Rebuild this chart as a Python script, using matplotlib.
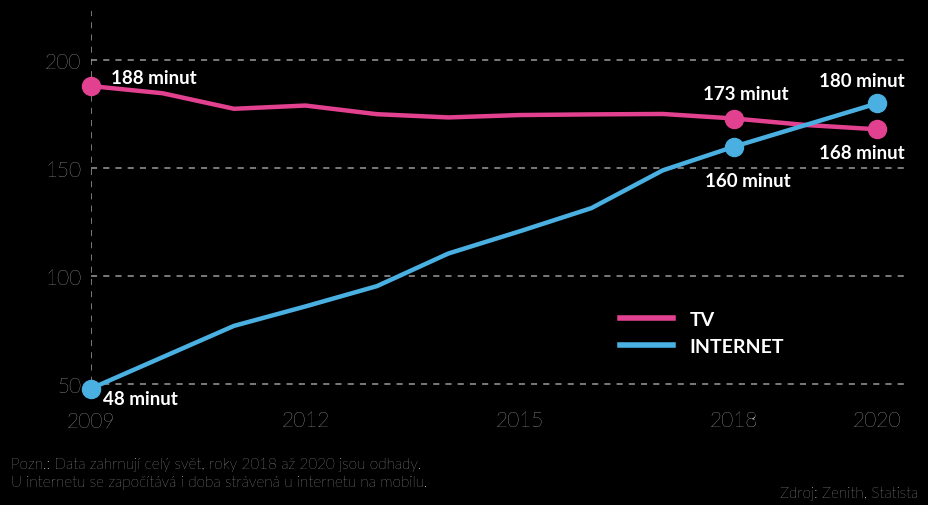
import matplotlib
matplotlib.use("Agg")
import matplotlib.pyplot as plt
from matplotlib.lines import Line2D

years = [2009, 2010, 2011, 2012, 2013, 2014, 2015, 2016, 2017, 2018, 2019, 2020]
tv = [188, 184.7, 177.5, 179, 175, 173.5, 174.6, 174.9, 175.1, 173, 170, 168]
internet = [48, 62.5, 77, 86, 95.4, 110.5, 120.8, 131.5, 149, 160, 170, 180]
xticks = [2009, 2012, 2015, 2018, 2020]
yticks = [50, 100, 150, 200]
series_names = ["TV", "INTERNET"]

PINK = "#E2418F"
BLUE = "#4AAFE1"
GRID = "#9a9a9a"
FONT = ["Lato", "DejaVu Sans"]

plt.rcParams['font.family'] = FONT

fig = plt.figure(figsize=(9.29, 5.06), dpi=100, facecolor="black")
ax = fig.add_axes([0.098, 0.2174, 0.877, 0.7586], facecolor="black")

ax.set_xlim(2009, 2020.4)
ax.set_ylim(45, 222.7)

for y in yticks:
    ax.axhline(y, color=GRID, lw=1.1, ls=(0, (4, 4)), zorder=1)
ax.axvline(2009, color=GRID, lw=1.1, ls=(0, (4, 4)), zorder=1)

ax.plot(years, tv, color=PINK, lw=3.2, solid_capstyle="round", zorder=3)
ax.plot(years, internet, color=BLUE, lw=3.2, solid_capstyle="round", zorder=3)

# highlighted points
hl_tv = [0, 9, 11]
hl_in = [0, 9, 11]
ax.plot([years[i] for i in hl_tv], [tv[i] for i in hl_tv], "o", color=PINK,
        ms=13, zorder=4, clip_on=False)
ax.plot([years[i] for i in hl_in], [internet[i] for i in hl_in], "o", color=BLUE,
        ms=13, zorder=4, clip_on=False)

def lab(x, y, text, dx, dy, ha):
    ax.annotate(text, (x, y), xytext=(dx * 0.72, dy * 0.72), textcoords="offset points",
                ha=ha, va="center", color="white", fontsize=13.5, fontweight="bold",
                zorder=5)

lab(years[0], tv[0], f"{tv[0]:.0f} minut", 20, 9, "left")
lab(years[0], internet[0], f"{internet[0]:.0f} minut", 12, -10, "left")
lab(years[9], tv[9], f"{tv[9]:.0f} minut", 12, 25, "center")
lab(years[9], internet[9], f"{internet[9]:.0f} minut", 14, -34, "center")
lab(years[11], internet[11], f"{internet[11]:.0f} minut", -15, 23, "center")
lab(years[11], tv[11], f"{tv[11]:.0f} minut", -15, -23, "center")

ax.set_xticks(xticks)
ax.set_xticklabels([str(t) for t in xticks])
ax.set_yticks(yticks)
ax.set_yticklabels([str(t) for t in yticks])
ax.tick_params(axis="both", length=0, colors="white", labelsize=15)
ax.tick_params(axis="x", pad=11)
ax.tick_params(axis="y", pad=7)
for t in ax.get_xticklabels() + ax.get_yticklabels():
    t.set_fontweight("light")
for s in ax.spines.values():
    s.set_visible(False)

handles = [Line2D([0], [0], color=PINK, lw=4), Line2D([0], [0], color=BLUE, lw=4)]
leg = ax.legend(handles, series_names, loc="upper left", bbox_to_anchor=(0.64, 0.239),
                frameon=False, handlelength=2.7, handletextpad=0.85, labelspacing=0.5,
                borderaxespad=0.0,
                prop={"family": FONT, "weight": "bold", "size": 14})
for t in leg.get_texts():
    t.set_color("white")

fig.text(11 / 929, 1 - 474 / 506,
         "Pozn.: Data zahrnují celý svět, roky 2018 až 2020 jsou odhady.\n"
         "U internetu se započítává i doba strávená u internetu na mobilu.",
         color="white", fontsize=11, fontweight="light", va="center", ha="left",
         linespacing=1.3)
fig.text(918 / 929, 1 - 494 / 506, "Zdroj: Zenith, Statista", color="white",
         fontsize=11, fontweight="light", va="center", ha="right")

fig.savefig("out.png", dpi=100, facecolor="black")
